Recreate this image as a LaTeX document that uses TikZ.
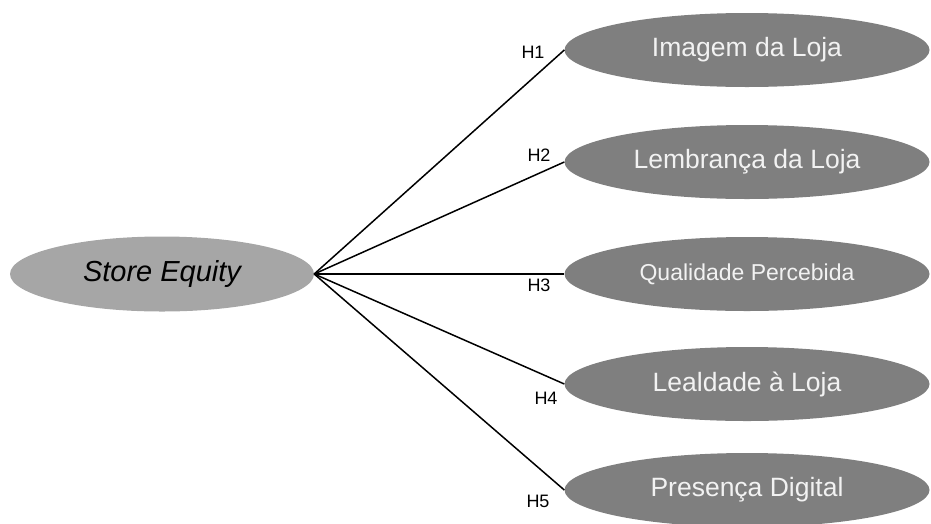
\documentclass[tikz,border=0pt]{standalone}
\usepackage{fontspec}
\setmainfont{Liberation Sans}
\usetikzlibrary{shapes.geometric}
\definecolor{lightgrey}{HTML}{A6A6A6}
\definecolor{darkgrey}{HTML}{7F7F7F}
\definecolor{paletext}{HTML}{F2F2F2}
\begin{document}
\begin{tikzpicture}[x=1pt,y=-1pt,
    factor/.style={ellipse,fill=darkgrey,draw=none,text=paletext,inner sep=0pt,
        minimum width=365pt,minimum height=74pt,font=\fontsize{26.5}{31}\selectfont},
    construct/.style={ellipse,fill=lightgrey,draw=none,inner sep=0pt,
        minimum width=304pt,minimum height=75pt,font=\fontsize{29}{35}\selectfont\itshape},
    hyp/.style={font=\fontsize{18}{22}\selectfont,inner sep=0pt},
    link/.style={line width=1.5pt}]
                \useasboundingbox (0,0) rectangle (931,523);
                \node[construct] (se) at (162,274) {Store Equity};
                \node[factor] (img) at (747,50) {Imagem da Loja};
                \node[factor] (lem) at (747,162) {Lembrança da Loja};
                \node[factor,font=\fontsize{23}{28}\selectfont] (qual) at (747,274) {Qualidade Percebida};
                \node[factor] (leal) at (747,384) {Lealdade à Loja};
                \node[factor] (pres) at (747,490) {Presença Digital};
                \foreach \f in {img,lem,qual,leal,pres}
                    \draw[link] (se.east) -- (\f.west);
                \node[hyp] (h1) at (533,52) {H1};
                \node[hyp] (h2) at (539,155) {H2};
                \node[hyp] (h3) at (539,285) {H3};
                \node[hyp] (h4) at (546,398) {H4};
                \node[hyp] (h5) at (538,501) {H5};
            \end{tikzpicture}
\end{document}
